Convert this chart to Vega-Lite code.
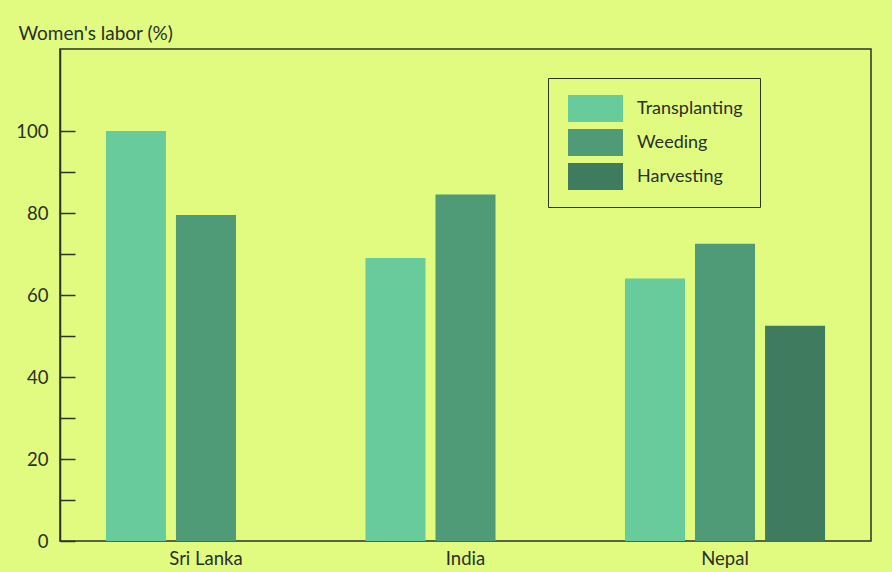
{
  "$schema": "https://vega.github.io/schema/vega-lite/v6.json",
  "width": 811,
  "height": 492,
  "autosize": "none",
  "padding": {"left": 60, "top": 49, "right": 21, "bottom": 31},
  "background": "#e0fb80",
  "config": {
    "font": "Lato",
    "view": {"stroke": "#2c3328", "strokeWidth": 1.5},
    "axis": {"labelColor": "#2a2f28", "titleColor": "#2a2f28", "domainColor": "#2c3328", "tickColor": "#2c3328", "grid": false}
  },
  "data": {
    "values": [
      {"country": "Sri Lanka", "task": "Transplanting", "value": 100},
      {"country": "Sri Lanka", "task": "Weeding", "value": 79.5},
      {"country": "India", "task": "Transplanting", "value": 69},
      {"country": "India", "task": "Weeding", "value": 84.5},
      {"country": "Nepal", "task": "Transplanting", "value": 64},
      {"country": "Nepal", "task": "Weeding", "value": 72.5},
      {"country": "Nepal", "task": "Harvesting", "value": 52.5}
    ]
  },
  "mark": {"type": "bar"},
  "encoding": {
    "x": {
      "field": "country", "type": "nominal", "sort": ["Sri Lanka", "India", "Nepal"],
      "scale": {"paddingInner": 0.229, "paddingOuter": 0.177},
      "axis": {"title": null, "ticks": false, "domain": false, "labelAngle": 0, "labelFontSize": 18.5, "labelPadding": 8}
    },
    "xOffset": {
      "field": "task", "type": "nominal", "sort": ["Transplanting", "Weeding", "Harvesting"],
      "scale": {"domain": ["Transplanting", "Weeding", "Harvesting"], "paddingInner": 0.143, "paddingOuter": 0}
    },
    "y": {
      "field": "value", "type": "quantitative",
      "scale": {"domain": [0, 120], "nice": false},
      "axis": {
        "title": "Women's labor (%)", "titleAngle": 0, "titleX": -42, "titleY": -10, "titleAlign": "left", "titleBaseline": "alphabetic",
        "titleFontSize": 19, "titleFontWeight": "normal",
        "values": [0, 10, 20, 30, 40, 50, 60, 70, 80, 90, 100],
        "labelExpr": "datum.value % 20 == 0 ? datum.label : ''",
        "labelFontSize": 18.5, "tickSize": -15, "tickWidth": 1.5, "domainWidth": 1.5, "labelPadding": 27
      }
    },
    "color": {
      "field": "task", "type": "nominal",
      "scale": {"domain": ["Transplanting", "Weeding", "Harvesting"], "range": ["#68cb9b", "#4f9b78", "#3f7b5f"]},
      "legend": {
        "title": null, "orient": "none", "legendX": 488, "legendY": 29,
        "strokeColor": "#2c3328", "padding": 17, "symbolOffset": 3,
        "symbolType": "M-1,-1H3.074V1H-1Z", "symbolSize": 729, "symbolStrokeWidth": 0, "symbolOpacity": 1,
        "labelFontSize": 18, "labelOffset": 42, "labelColor": "#2a2f28", "rowPadding": 7
      }
    }
  }
}
